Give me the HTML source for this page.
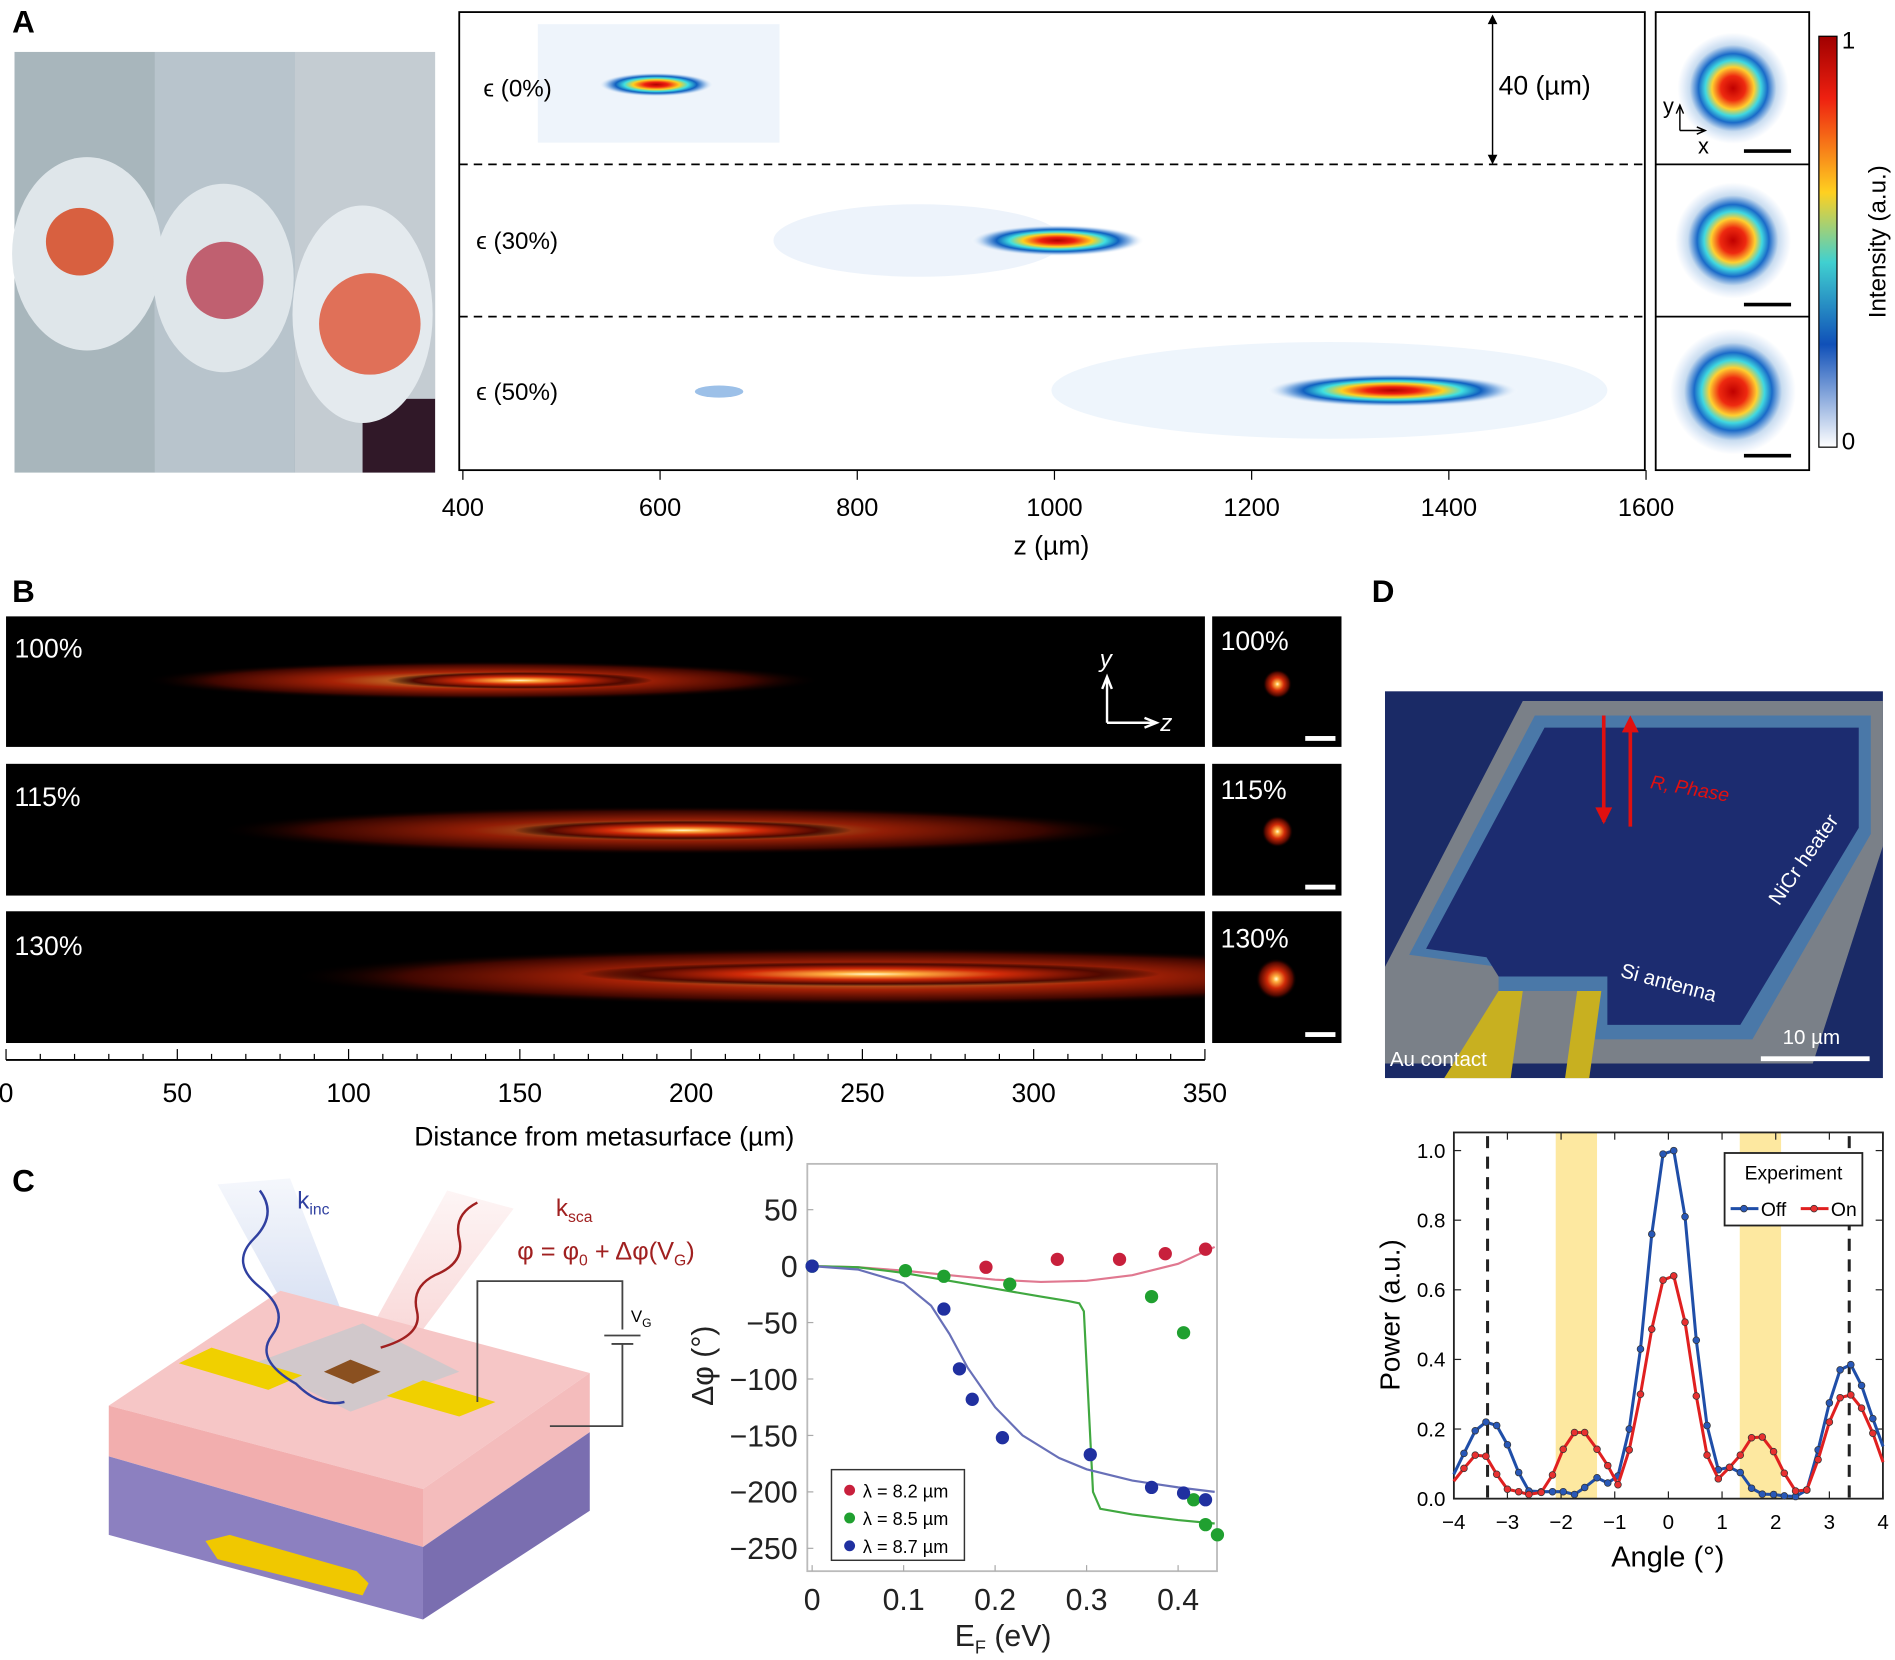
<!DOCTYPE html>
<html><head><meta charset="utf-8">
<style>
html,body{margin:0;padding:0;background:#fff;}
svg{display:block;font-family:"Liberation Sans",sans-serif;}
</style></head>
<body>
<svg id="fig" width="1895" height="1660" viewBox="0 0 1568 1373.5" preserveAspectRatio="none" xmlns="http://www.w3.org/2000/svg">
<defs>
  <radialGradient id="jet" cx="50%" cy="50%" r="50%">
    <stop offset="0" stop-color="#b00000"/><stop offset="0.2" stop-color="#ee2010"/>
    <stop offset="0.4" stop-color="#ffd020"/><stop offset="0.55" stop-color="#40e0e0"/>
    <stop offset="0.7" stop-color="#1060c0"/><stop offset="0.85" stop-color="#a8c8ec"/>
    <stop offset="1" stop-color="#ffffff" stop-opacity="0"/>
  </radialGradient>
  <radialGradient id="spot" cx="50%" cy="50%" r="50%">
    <stop offset="0" stop-color="#c00000"/><stop offset="0.22" stop-color="#ee2a10"/>
    <stop offset="0.38" stop-color="#ffd030"/><stop offset="0.5" stop-color="#40d8e0"/>
    <stop offset="0.62" stop-color="#1a6ac8"/><stop offset="0.78" stop-color="#c8dcf0"/>
    <stop offset="0.9" stop-color="#e8f0fa"/><stop offset="1" stop-color="#fff"/>
  </radialGradient>
  <radialGradient id="glow" cx="50%" cy="50%" r="50%">
    <stop offset="0" stop-color="#fffbd0"/><stop offset="0.15" stop-color="#ffb040"/>
    <stop offset="0.45" stop-color="#d02a08"/><stop offset="0.8" stop-color="#500800"/>
    <stop offset="1" stop-color="#000" stop-opacity="0"/>
  </radialGradient>
  <linearGradient id="cbar" x1="0" y1="0" x2="0" y2="1">
    <stop offset="0" stop-color="#a00000"/><stop offset="0.15" stop-color="#ee2010"/>
    <stop offset="0.38" stop-color="#ffd020"/><stop offset="0.55" stop-color="#40d0d0"/>
    <stop offset="0.75" stop-color="#1050b8"/><stop offset="1" stop-color="#ffffff"/>
  </linearGradient>
  <linearGradient id="photo" x1="0" y1="0" x2="1" y2="1">
    <stop offset="0" stop-color="#8a9aa0"/><stop offset="0.5" stop-color="#c8d4d8"/><stop offset="1" stop-color="#606a78"/>
  </linearGradient>
  <linearGradient id="beamK" x1="0" y1="0" x2="0" y2="1">
    <stop offset="0" stop-color="#9ab0e0" stop-opacity="0.1"/><stop offset="1" stop-color="#9ab0e0" stop-opacity="0.5"/>
  </linearGradient>
  <linearGradient id="beamR" x1="0" y1="0" x2="0" y2="1">
    <stop offset="0" stop-color="#f0a0a0" stop-opacity="0.1"/><stop offset="1" stop-color="#f0a0a0" stop-opacity="0.5"/>
  </linearGradient>
  <clipPath id="clipB"><rect x="5" y="505" width="992" height="365"/></clipPath>
</defs>

<!-- Panel A -->
<text x="10" y="27" font-size="26" font-weight="bold">A</text>
<g>
  <rect x="12" y="43" width="348" height="348" fill="url(#photo)"/>
  <rect x="12" y="43" width="116" height="348" fill="#a8b6bc"/>
  <rect x="128" y="43" width="116" height="348" fill="#b8c4cc"/>
  <rect x="244" y="43" width="116" height="348" fill="#c4ccd2"/>
  <rect x="300" y="330" width="60" height="61" fill="#301828"/>
  <ellipse cx="72" cy="210" rx="62" ry="80" fill="#dfe6ea"/>
  <circle cx="66" cy="200" r="28" fill="#d86040"/>
  <ellipse cx="185" cy="230" rx="58" ry="78" fill="#dfe6ea"/>
  <circle cx="186" cy="232" r="32" fill="#c06070"/>
  <ellipse cx="300" cy="260" rx="58" ry="90" fill="#e4eaee"/>
  <circle cx="306" cy="268" r="42" fill="#e07058"/>
</g>
<g>
  <rect x="380" y="10" width="981" height="379" fill="#fff" stroke="#000" stroke-width="1.5"/>
  <rect x="445" y="20" width="200" height="98" fill="#eef4fb"/>
  <ellipse cx="543" cy="70" rx="48" ry="10" fill="url(#jet)"/>
  <ellipse cx="760" cy="199" rx="120" ry="30" fill="#e8f0fa" opacity="0.8"/>
  <ellipse cx="875" cy="199" rx="72" ry="13" fill="url(#jet)"/>
  <ellipse cx="1100" cy="323" rx="230" ry="40" fill="#eaf2fb" opacity="0.8"/>
  <ellipse cx="595" cy="324" rx="20" ry="5" fill="#9cc0e8"/>
  <ellipse cx="1152" cy="323" rx="105" ry="14" fill="url(#jet)"/>
  <line x1="380" y1="136" x2="1361" y2="136" stroke="#000" stroke-width="1.5" stroke-dasharray="7,5"/>
  <line x1="380" y1="262" x2="1361" y2="262" stroke="#000" stroke-width="1.5" stroke-dasharray="7,5"/>
  <line x1="1235" y1="14" x2="1235" y2="134" stroke="#000" stroke-width="1.2"/>
  <path d="M1231,20 L1235,12 L1239,20 Z M1231,128 L1235,136 L1239,128 Z" fill="#000"/>
  <text x="1240" y="78" font-size="22">40 (µm)</text>
  <text x="400" y="80" font-size="20">ϵ (0%)</text>
  <text x="394" y="206" font-size="20">ϵ (30%)</text>
  <text x="394" y="331" font-size="20">ϵ (50%)</text>
</g>
<g id="axA" font-size="21" text-anchor="middle"></g>
<text x="870" y="459" font-size="22" text-anchor="middle">z (µm)</text>
<g>
  <rect x="1370" y="10" width="127" height="379" fill="#fff" stroke="#000" stroke-width="1.5"/>
  <line x1="1370" y1="136" x2="1497" y2="136" stroke="#000" stroke-width="1.5"/>
  <line x1="1370" y1="262" x2="1497" y2="262" stroke="#000" stroke-width="1.5"/>
  <circle cx="1434" cy="73" r="46" fill="url(#spot)"/>
  <circle cx="1434" cy="199" r="48" fill="url(#spot)"/>
  <circle cx="1434" cy="324" r="52" fill="url(#spot)"/>
  <line x1="1443" y1="125" x2="1482" y2="125" stroke="#000" stroke-width="3"/>
  <line x1="1443" y1="252" x2="1482" y2="252" stroke="#000" stroke-width="3"/>
  <line x1="1443" y1="377" x2="1482" y2="377" stroke="#000" stroke-width="3"/>
  <path d="M1390,108 L1390,88 M1387,94 L1390,87 L1393,94 M1390,108 L1410,108 M1404,105 L1411,108 L1404,111" stroke="#000" fill="none" stroke-width="1.2"/>
  <text x="1376" y="94" font-size="18">y</text>
  <text x="1405" y="127" font-size="18">x</text>
</g>
<g>
  <rect x="1505" y="30" width="15" height="340" fill="url(#cbar)" stroke="#000" stroke-width="1"/>
  <text x="1524" y="40" font-size="20">1</text>
  <text x="1524" y="372" font-size="20">0</text>
  <text transform="translate(1560,200) rotate(-90)" font-size="20" text-anchor="middle">Intensity (a.u.)</text>
</g>

<!-- Panel B -->
<text x="10" y="498" font-size="26" font-weight="bold">B</text>
<g>
  <rect x="5" y="510" width="992" height="108" fill="#000"/>
  <rect x="5" y="632" width="992" height="109" fill="#000"/>
  <rect x="5" y="754" width="992" height="109" fill="#000"/>
  <g clip-path="url(#clipB)">
  <ellipse cx="400" cy="563" rx="280" ry="16" fill="url(#glow)" opacity="0.8"/>
  <ellipse cx="430" cy="563" rx="110" ry="7" fill="url(#glow)"/>
  <ellipse cx="560" cy="687" rx="380" ry="20" fill="url(#glow)" opacity="0.7"/>
  <ellipse cx="565" cy="687" rx="140" ry="8" fill="url(#glow)"/>
  <ellipse cx="720" cy="808" rx="480" ry="24" fill="url(#glow)" opacity="0.8"/>
  <ellipse cx="720" cy="806" rx="240" ry="10" fill="url(#glow)"/>
  </g>
  <text x="12" y="544" font-size="22" fill="#fff">100%</text>
  <text x="12" y="667" font-size="22" fill="#fff">115%</text>
  <text x="12" y="790" font-size="22" fill="#fff">130%</text>
  <path d="M916,598 L916,562 M912,570 L916,560 L920,570 M916,598 L955,598 M947,594 L957,598 L947,602" stroke="#fff" fill="none" stroke-width="2"/>
  <text x="910" y="552" font-size="20" fill="#fff" font-style="italic">y</text>
  <text x="960" y="605" font-size="20" fill="#fff" font-style="italic">z</text>
  <rect x="1003" y="510" width="107" height="108" fill="#000"/>
  <rect x="1003" y="632" width="107" height="109" fill="#000"/>
  <rect x="1003" y="754" width="107" height="109" fill="#000"/>
  <circle cx="1057" cy="566" r="12" fill="url(#glow)"/>
  <circle cx="1057" cy="688" r="13" fill="url(#glow)"/>
  <circle cx="1056" cy="810" r="17" fill="url(#glow)"/>
  <text x="1010" y="538" font-size="22" fill="#fff">100%</text>
  <text x="1010" y="661" font-size="22" fill="#fff">115%</text>
  <text x="1010" y="784" font-size="22" fill="#fff">130%</text>
  <rect x="1080" y="609" width="25" height="4" fill="#fff"/>
  <rect x="1080" y="732" width="25" height="4" fill="#fff"/>
  <rect x="1080" y="854" width="25" height="4" fill="#fff"/>
</g>
<g id="axB" font-size="22" text-anchor="middle"></g>
<text x="500" y="948" font-size="22" text-anchor="middle">Distance from metasurface (µm)</text>

<!-- Panel C diagram -->
<text x="10" y="986" font-size="26" font-weight="bold">C</text>
<g>
  <polygon points="180,980 240,975 300,1130 265,1135" fill="url(#beamK)"/>
  <polygon points="370,985 425,1000 320,1140 290,1130" fill="url(#beamR)"/>
  <polygon points="165,1230 300,1270 305,1325 180,1290" fill="#f0c800"/>
  <polygon points="90,1163 232,1068 488,1136 350,1232" fill="#f6c6c6"/>
  <polygon points="90,1163 350,1232 350,1280 90,1205" fill="#f2aeae"/>
  <polygon points="350,1232 488,1136 488,1185 350,1280" fill="#f4bcbc"/>
  <polygon points="90,1205 350,1280 350,1340 90,1270" fill="#8c80c0"/>
  <polygon points="350,1280 488,1185 488,1250 350,1340" fill="#7a6eb0"/>
  <polygon points="170,1275 180,1290 300,1320 305,1310 295,1300 190,1270" fill="#f0c800"/>
  <polygon points="210,1128 300,1095 380,1135 290,1168" fill="#c8c8cc" opacity="0.8"/>
  <polygon points="148,1128 175,1115 250,1138 222,1150" fill="#f0d000"/>
  <polygon points="320,1155 350,1142 410,1160 380,1172" fill="#f0d000"/>
  <polygon points="268,1135 290,1125 315,1135 292,1145" fill="#8a5020"/>
  <path d="M215,985 q15,20 -5,40 q-20,20 5,40 q25,20 10,40 q-15,20 20,40 q20,20 40,15" stroke="#3040a0" fill="none" stroke-width="2"/>
  <path d="M395,995 q-20,10 -15,30 q5,20 -20,30 q-20,10 -15,30 q5,20 -30,30" stroke="#a02020" fill="none" stroke-width="2"/>
  <path d="M395,1160 L395,1060 L515,1060 L515,1100 M500,1105 L530,1105 M506,1112 L524,1112 M515,1112 L515,1180 L455,1180" stroke="#444" fill="none" stroke-width="1.5"/>
  <text x="246" y="1000" font-size="20" fill="#3040a0">k<tspan font-size="13" dy="5">inc</tspan></text>
  <text x="460" y="1006" font-size="20" fill="#a02020">k<tspan font-size="13" dy="5">sca</tspan></text>
  <text x="428" y="1042" font-size="21" fill="#a02020">φ = φ<tspan font-size="13" dy="5">0</tspan><tspan dy="-5"> + Δφ(V</tspan><tspan font-size="13" dy="5">G</tspan><tspan dy="-5">)</tspan></text>
  <text x="522" y="1094" font-size="14">V<tspan font-size="10" dy="4">G</tspan></text>
</g>

<!-- Panel C chart -->
<g id="chartC"></g>

<!-- Panel D -->
<text x="1135" y="498" font-size="26" font-weight="bold">D</text>
<g>
  <rect x="1146" y="572" width="412" height="320" fill="#1a2a66"/>
  <polygon points="1146,800 1260,580 1558,580 1558,700 1500,880 1146,880" fill="#7a8088"/>
  <polygon points="1166,790 1270,592 1548,592 1548,690 1450,860 1320,860 1320,820 1240,820 1240,800" fill="#4a78a8"/>
  <polygon points="1180,785 1278,602 1538,602 1538,685 1440,848 1330,848 1330,808 1240,808 1230,792" fill="#1c2c70"/>
  <polygon points="1240,820 1260,820 1250,892 1195,892" fill="#c8b020"/>
  <polygon points="1305,820 1325,820 1315,892 1295,892" fill="#c8b020"/>
  <line x1="1327" y1="592" x2="1327" y2="680" stroke="#e01010" stroke-width="3"/>
  <path d="M1320,668 L1327,682 L1334,668 Z" fill="#e01010"/>
  <line x1="1349" y1="684" x2="1349" y2="596" stroke="#e01010" stroke-width="3"/>
  <path d="M1342,606 L1349,592 L1356,606 Z" fill="#e01010"/>
  <text x="1365" y="652" font-size="16" fill="#e01010" font-style="italic" transform="rotate(10,1365,652)">R, Phase</text>
  <text x="1472" y="750" font-size="17" fill="#fff" transform="rotate(-55,1472,750)">NiCr heater</text>
  <text x="1340" y="808" font-size="17" fill="#fff" transform="rotate(15,1340,808)">Si antenna</text>
  <text x="1150" y="882" font-size="17" fill="#fff">Au contact</text>
  <text x="1475" y="864" font-size="17" fill="#fff">10 µm</text>
  <rect x="1457" y="874" width="90" height="4" fill="#fff"/>
</g>
<g id="chartD"></g>

<script>
const NS="http://www.w3.org/2000/svg";
function mk(parent,tag,attrs,text){const e=document.createElementNS(NS,tag);for(const k in attrs)e.setAttribute(k,attrs[k]);if(text!==undefined)e.textContent=text;parent.appendChild(e);return e;}

// ---- Panel A axis ----
const zTicks=[400,600,800,1000,1200,1400,1600];
const zA=v=>383+(v-400)*(1362-383)/1200;
const axA=document.getElementById('axA');
zTicks.forEach(t=>{mk(axA,'line',{x1:zA(t),x2:zA(t),y1:389,y2:397,stroke:'#000'});
  const lb=mk(axA,'text',{x:zA(t),y:427},String(t));
  
  });

// ---- Panel B axis ----
const dTicks=[0,50,100,150,200,250,300,350];
const dB=v=>5+v*(997-5)/350;
const axB=document.getElementById('axB');
mk(axB,'line',{x1:5,x2:997,y1:877,y2:877,stroke:'#000','stroke-width':1.5});
for(let v=0;v<=350;v+=10){mk(axB,'line',{x1:dB(v),x2:dB(v),y1:877,y2:v%50===0?868:872,stroke:'#000'});}
dTicks.forEach(t=>{const lb=mk(axB,'text',{x:dB(t),y:912},String(t));
  
  });

// ---- Panel C chart data ----
const cXTicks=[0,0.1,0.2,0.3,0.4];
const cYTicks=[50,0,-50,-100,-150,-200,-250];
const redE=[0.19,0.268,0.336,0.386,0.43];
const redPhi=[-1,6,6,11,15];
const greenE=[0,0.102,0.144,0.216,0.371,0.406,0.417,0.43,0.443];
const greenPhi=[0,-4,-9,-16,-27,-59,-207,-229,-238];
const blueE=[0,0.144,0.161,0.175,0.208,0.304,0.371,0.406,0.43];
const bluePhi=[0,-38,-91,-118,-152,-167,-196,-201,-207];
const redFitE=[0,0.05,0.1,0.15,0.2,0.25,0.3,0.35,0.4,0.44];
const redFit=[0,-1,-4,-8,-12,-14,-13,-8,2,17];
const greenFitE=[0,0.05,0.1,0.15,0.2,0.25,0.28,0.292,0.297,0.302,0.307,0.315,0.35,0.4,0.44];
const greenFit=[0,-1,-6,-13,-20,-27,-31,-33,-40,-120,-200,-215,-220,-225,-228];
const blueFitE=[0,0.05,0.1,0.13,0.15,0.17,0.2,0.23,0.27,0.3,0.35,0.4,0.44];
const blueFit=[0,-3,-15,-35,-60,-90,-125,-150,-170,-180,-190,-196,-200];

(function(){
  const g=document.getElementById('chartC');
  const X=v=>672+v*757;
  const Y=v=>1047.6-v*0.934;
  mk(g,'rect',{x:668,y:963,width:339,height:337,fill:'#fff',stroke:'#bbb','stroke-width':1.5});
  cXTicks.forEach(t=>{mk(g,'line',{x1:X(t),x2:X(t),y1:1300,y2:1295,stroke:'#aaa'});
    const lb=mk(g,'text',{x:X(t),y:1332,'font-size':25,'text-anchor':'middle',fill:'#222'},String(t));
    
    });
  cYTicks.forEach(t=>{mk(g,'line',{x1:668,x2:673,y1:Y(t),y2:Y(t),stroke:'#aaa'});
    const lb=mk(g,'text',{x:660,y:Y(t)+9,'font-size':25,'text-anchor':'end',fill:'#222'},t<0?'−'+(-t):String(t));
    
    });
  const t1=mk(g,'text',{x:830,y:1362,'font-size':25,'text-anchor':'middle',fill:'#222'},'E');
  mk(t1,'tspan',{'font-size':15,dy:6},'F');
  mk(t1,'tspan',{dy:-6},' (eV)');
  
  
  const t2=mk(g,'text',{transform:'translate(590,1130) rotate(-90)','font-size':25,'text-anchor':'middle',fill:'#222'},'Δφ (°)');
  
  
  const fits=[[redFitE,redFit,'#e07890'],[greenFitE,greenFit,'#40a840'],[blueFitE,blueFit,'#6870b8']];
  fits.forEach(f=>{const p=mk(g,'polyline',{points:f[0].map((e,i)=>X(e)+','+Y(f[1][i])).join(' '),fill:'none',stroke:f[2],'stroke-width':1.8});
    
    });
  const pts=[[redE,redPhi,'#c8203c'],[greenE,greenPhi,'#20a030'],[blueE,bluePhi,'#2030a0']];
  pts.forEach(s=>s[0].forEach((e,i)=>{const c=mk(g,'circle',{cx:X(e),cy:Y(s[1][i]),r:5.5,fill:s[2]});
    
    }));
  const lg=mk(g,'g',{});
  
  
  mk(lg,'rect',{x:688,y:1216,width:110,height:75,fill:'#fff',stroke:'#333','stroke-width':1.2});
  const labs=['λ = 8.2 µm','λ = 8.5 µm','λ = 8.7 µm'],cols=['#c8203c','#20a030','#2030a0'];
  labs.forEach((l,i)=>{mk(lg,'circle',{cx:703,cy:1233+i*23,r:4.5,fill:cols[i]});
    mk(lg,'text',{x:714,y:1239+i*23,'font-size':15},l);});
})();

// ---- Panel D chart data ----
const angTicks=[-4,-3,-2,-1,0,1,2,3,4];
const powTicks=[0,0.2,0.4,0.6,0.8,1.0];
const angles=[-4,-3.81,-3.6,-3.4,-3.2,-3.0,-2.79,-2.6,-2.37,-2.16,-1.96,-1.75,-1.56,-1.33,-1.13,-0.94,-0.73,-0.52,-0.31,-0.1,0.1,0.31,0.52,0.72,0.93,1.14,1.34,1.55,1.75,1.96,2.16,2.37,2.58,2.79,3.0,3.2,3.4,3.6,3.81,4];
const offPow=[0.07,0.13,0.195,0.22,0.21,0.155,0.075,0.022,0.02,0.02,0.02,0.012,0.032,0.06,0.045,0.065,0.2,0.43,0.76,0.99,1.0,0.81,0.455,0.21,0.083,0.09,0.075,0.03,0.013,0.012,0.008,0.006,0.025,0.14,0.275,0.37,0.385,0.325,0.23,0.15];
const onPow=[0.05,0.087,0.125,0.122,0.07,0.027,0.02,0.012,0.018,0.068,0.142,0.19,0.19,0.142,0.095,0.04,0.14,0.3,0.487,0.628,0.64,0.507,0.295,0.125,0.057,0.09,0.125,0.175,0.177,0.135,0.073,0.022,0.025,0.112,0.22,0.29,0.298,0.26,0.188,0.105];
const bands=[[-2.1,-1.33],[1.33,2.1]];
const dashedAngles=[-3.37,3.37];

(function(){
  const g=document.getElementById('chartD');
  const X=v=>1380.5+v*44.4;
  const Y=v=>1240-v*288;
  bands.forEach(b=>{const r=mk(g,'rect',{x:X(b[0]),y:937,width:X(b[1])-X(b[0]),height:303,fill:'#fde8a0'});
    
    });
  dashedAngles.forEach(a=>{mk(g,'line',{x1:X(a),x2:X(a),y1:940,y2:1240,stroke:'#222','stroke-width':2.5,'stroke-dasharray':'10,7'});});
  mk(g,'rect',{x:1203,y:937,width:355,height:303,fill:'none',stroke:'#222','stroke-width':1.5});
  angTicks.forEach(t=>{mk(g,'line',{x1:X(t),x2:X(t),y1:1240,y2:1234,stroke:'#222'});mk(g,'line',{x1:X(t),x2:X(t),y1:937,y2:943,stroke:'#222'});
    const lb=mk(g,'text',{x:X(t),y:1265,'font-size':17,'text-anchor':'middle'},t<0?'−'+(-t):String(t));
    
    });
  powTicks.forEach(t=>{mk(g,'line',{x1:1203,x2:1209,y1:Y(t),y2:Y(t),stroke:'#222'});mk(g,'line',{x1:1552,x2:1558,y1:Y(t),y2:Y(t),stroke:'#222'});
    const lb=mk(g,'text',{x:1196,y:Y(t)+6,'font-size':17,'text-anchor':'end'},t.toFixed(1));
    
    });
  const xt=mk(g,'text',{x:1380,y:1296,'font-size':24,'text-anchor':'middle'},'Angle (°)');
  
  
  const yt=mk(g,'text',{transform:'translate(1158,1088) rotate(-90)','font-size':23,'text-anchor':'middle'},'Power (a.u.)');
  
  
  [[offPow,'#1f4ea8','#2858b8'],[onPow,'#e02020','#e83030']].forEach(s=>{
    const p=mk(g,'polyline',{points:angles.map((a,i)=>X(a)+','+Y(s[0][i])).join(' '),fill:'none',stroke:s[1],'stroke-width':2.5});
    
    
    angles.forEach((a,i)=>{if(Math.abs(a)>3.95)return;const c=mk(g,'circle',{cx:X(a),cy:Y(s[0][i]),r:2.8,fill:s[2],stroke:'#333','stroke-width':0.6});
      
      });
  });
  const lg=mk(g,'g',{});
  
  
  mk(lg,'rect',{x:1427,y:954,width:114,height:60,fill:'#fff',stroke:'#222','stroke-width':1.5});
  mk(lg,'text',{x:1484,y:976,'font-size':16,'text-anchor':'middle'},'Experiment');
  mk(lg,'line',{x1:1432,x2:1455,y1:1000,y2:1000,stroke:'#1f4ea8','stroke-width':2.5});
  mk(lg,'circle',{cx:1443,cy:1000,r:2.8,fill:'#2858b8',stroke:'#333','stroke-width':0.6});
  mk(lg,'text',{x:1457,y:1006,'font-size':16},'Off');
  mk(lg,'line',{x1:1490,x2:1513,y1:1000,y2:1000,stroke:'#e02020','stroke-width':2.5});
  mk(lg,'circle',{cx:1501,cy:1000,r:2.8,fill:'#e83030',stroke:'#333','stroke-width':0.6});
  mk(lg,'text',{x:1515,y:1006,'font-size':16},'On');
})();
</script>
</svg>
</body></html>
